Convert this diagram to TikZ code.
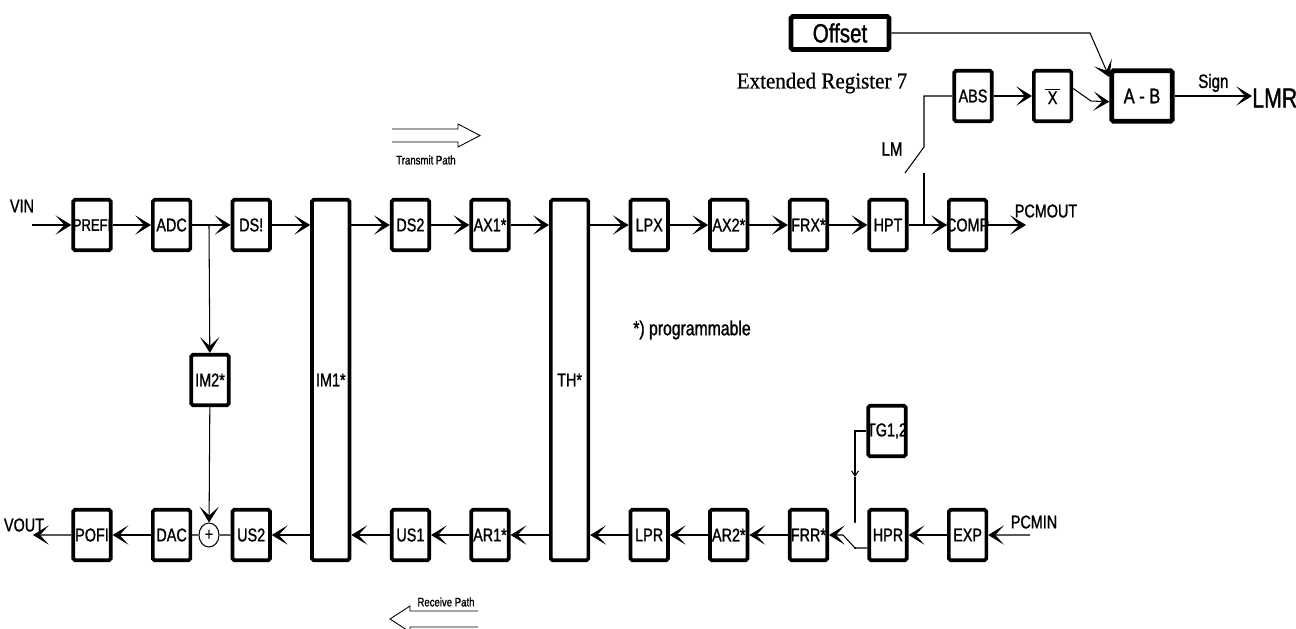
\documentclass[tikz,border=0pt]{standalone}
\usepackage{fontspec}
\setmainfont{Liberation Sans}[FakeStretch=0.78, FakeBold=1.2]
\newfontfamily\regfont{Liberation Serif}[FakeStretch=0.92, FakeBold=0.8]
\usetikzlibrary{arrows.meta,shapes.geometric}

\tikzstyle{block} = [rectangle, rounded corners=1pt, draw=black, line width=2.1pt, minimum width=0.75cm, minimum height=1.01cm, inner sep=0pt, font=\fontsize{10.5}{11}\selectfont, execute at begin node={\hbox to 0pt\bgroup\hss}, execute at end node={\hss\egroup}]
\tikzstyle{tall} = [block, minimum height=7.21cm]
\tikzstyle{wide} = [block, line width=2.8pt]
\tikzstyle{sig} = [line width=0.6pt, ->, >={Stealth[length=9pt,width=11pt,inset=5pt]}]
\tikzstyle{wire} = [line width=0.6pt]
\tikzstyle{pin} = [inner sep=0pt, font=\fontsize{10.5}{11}\selectfont]
\tikzstyle{note} = [inner sep=0pt, font=\fontsize{7}{8}\selectfont]
\tikzstyle{hollow} = [line width=0.5pt, line join=miter]

\begin{document}
\begin{tikzpicture}[x=0.2mm, y=-0.2mm, node distance=1.592cm]
  \useasboundingbox (0,0) rectangle (1296,628);

  % transmit path
  \node (prefi) [block, font=\fontsize{9.5}{10}\selectfont] at (92,225) {PREFI};
  \node (adc) [block, right of=prefi] {ADC};
  \node (ds1) [block, right of=adc] {DS!};
  \node (im1) [tall, right of=ds1, yshift=-3.1cm] {IM1*};
  \node (ds2) [block, node distance=3.184cm, right of=ds1] {DS2};
  \node (ax1) [block, right of=ds2] {AX1*};
  \node (th) [tall, right of=ax1, yshift=-3.1cm] {TH*};
  \node (lpx) [block, node distance=3.184cm, right of=ax1] {LPX};
  \node (ax2) [block, right of=lpx] {AX2*};
  \node (frx) [block, right of=ax2] {FRX*};
  \node (hpt) [block, right of=frx] {HPT};
  \node (comp) [block, right of=hpt] {COMP};

  % receive path
  \node (pofi) [block, node distance=6.2cm, below of=prefi] {POFI};
  \node (dac) [block, right of=pofi] {DAC};
  \node (us2) [block, right of=dac] {US2};
  \node (us1) [block, node distance=3.184cm, right of=us2] {US1};
  \node (ar1) [block, right of=us1] {AR1*};
  \node (lpr) [block, node distance=3.184cm, right of=ar1] {LPR};
  \node (ar2) [block, right of=lpr] {AR2*};
  \node (frr) [block, right of=ar2] {FRR*};
  \node (hpr) [block, right of=frr] {HPR};
  \node (exp) [block, right of=hpr] {EXP};

  \node (im2) [block] at (210,380) {IM2*};
  \node (sum) [ellipse, draw, line width=0.6pt, minimum width=0.4cm, minimum height=0.48cm, inner sep=0pt] at (209,535) {\fontsize{10}{10}\selectfont +};
  \node (tg) [block] at (887,431) {TG1,2};

  % level meter
  \node (offset) [wide, minimum width=1.96cm, minimum height=0.66cm, font=\fontsize{15}{15}\selectfont] at (840,33) {Offset};
  \node (reg) [inner sep=0pt, font=\regfont\fontsize{13}{14}\selectfont] at (822,83) {Extended Register 7};
  \node (abs) [block] at (973,96) {ABS};
  \node (xbar) [block, right of=abs] {$\overline{\mbox{\,X\,}}$};
  \node (ab) [wide, minimum width=1.21cm, minimum height=1.01cm, font=\fontsize{12}{13}\selectfont] at (1142,96) {A - B};
  \node (lmr) [pin, anchor=west, font=\fontsize{15.5}{16}\selectfont] at (1252,98) {LMR};

  \node (vin) [pin] at (22,206) {VIN};
  \node (vout) [pin] at (24,525) {VOUT};
  \node (pcmout) [pin] at (1046,211) {PCMOUT};
  \node (pcmin) [pin] at (1034,522) {PCMIN};
  \node (lm) [pin, font=\fontsize{11}{11}\selectfont] at (892,149) {LM};
  \node (prog) [pin, font=\fontsize{11.5}{12}\selectfont] at (692,330) {*) programmable};
  \node (txt) [note] at (426,160) {Transmit Path};
  \node (rxt) [note] at (446,602) {Receive Path};

  \coordinate (vinend) at (32,225);
  \coordinate (voutend) at (33,535);
  \coordinate (txend) at (1026,225);
  \coordinate (rxend) at (1030,535);
  \coordinate (split) at (209,225);
  \coordinate (tap) at (924,225);
  \coordinate (tapend) at (924,173);
  \coordinate (lmlow) at (905,173);
  \coordinate (lmhigh) at (924,147);
  \coordinate (offbend) at (1090,33);
  \coordinate (xbend) at (1091,101);
  \coordinate (tgmid) at (855,477);
  \coordinate (tgend) at (855,522);
  \coordinate (rxlow) at (855,548);
  \coordinate (rxhigh) at (843,535);

  \draw [sig] (vinend) -- (prefi);
  \draw [sig] (prefi) -- (adc);
  \draw [sig] (adc) -- (ds1);
  \draw [sig] (ds1) -- (ds1 -| im1.west);
  \draw [sig] (ds1 -| im1.east) -- (ds2);
  \draw [sig] (ds2) -- (ax1);
  \draw [sig] (ax1) -- (ax1 -| th.west);
  \draw [sig] (ax1 -| th.east) -- (lpx);
  \draw [sig] (lpx) -- (ax2);
  \draw [sig] (ax2) -- (frx);
  \draw [sig] (frx) -- (hpt);
  \draw [sig] (hpt) -- (comp);
  \draw [sig] (comp) -- (txend);
  \draw [sig] (split) -- (im2);
  \draw [sig] (im2) -- (sum);

  \draw [wire] (tap) -- (tapend);
  \draw [wire] (lmlow) -- (lmhigh) |- (abs);
  \draw [sig] (abs) -- (xbar);
  \draw [sig] (xbar.20) -- (xbend) -- (ab.190);
  \draw [sig] (offset) -- (offbend) -- (ab.150);
  \draw [sig] (ab) -- (ab.east -| lmr.west) node [midway, above=2pt, inner sep=0pt, font=\fontsize{11}{12}\selectfont] {Sign};

  \draw [sig] (rxend) -- (exp);
  \draw [sig] (exp) -- (hpr);
  \draw [wire] (hpr.west |- rxlow) -- (rxlow) -- (rxhigh);
  \draw [sig] (rxhigh) -- (frr);
  \draw [sig] (frr) -- (ar2);
  \draw [sig] (ar2) -- (lpr);
  \draw [sig] (lpr) -- (lpr -| th.east);
  \draw [sig] (lpr -| th.west) -- (ar1);
  \draw [sig] (ar1) -- (us1);
  \draw [sig] (us1) -- (us1 -| im1.east);
  \draw [sig] (us1 -| im1.west) -- (us2);
  \draw [wire] (us2) -- (sum);
  \draw [wire] (sum) -- (dac);
  \draw [sig] (dac) -- (pofi);
  \draw [sig] (pofi) -- (voutend);

  \draw [wire, -{Straight Barb[length=3pt,width=4pt]}] (tg) -| (tgmid);
  \draw [wire] (tgmid) -- (tgend);
  \fill (tgend) circle (0.7pt);
  \fill (rxlow) circle (0.7pt);

  % path arrows
  \draw [hollow] (392,129) -- (458,129) -- (458,124) -- (480,135.5) -- (458,147) -- (458,142) -- (392,142);
  \draw [hollow] (478,611) -- (410,611) -- (410,606) -- (390,619) -- (410,632) -- (410,627) -- (478,627);
\end{tikzpicture}
\end{document}
